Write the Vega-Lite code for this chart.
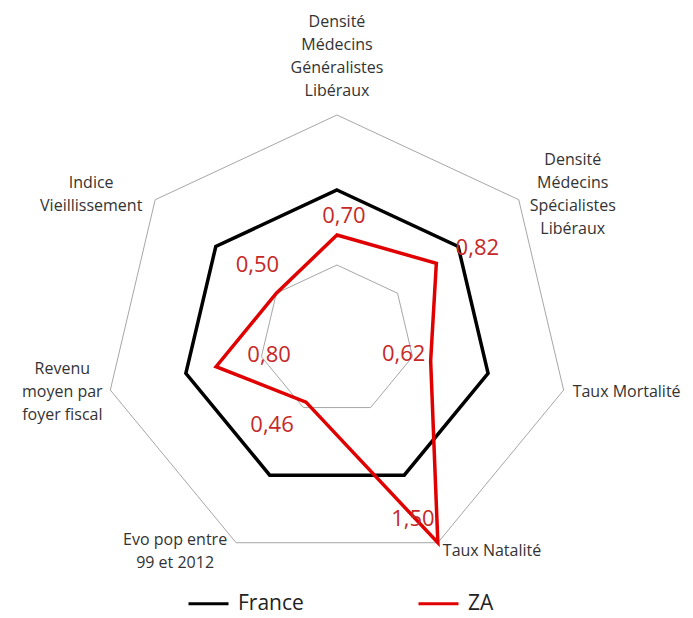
{
  "$schema": "https://vega.github.io/schema/vega-lite/v6.json",
  "width": 693,
  "height": 618,
  "autosize": {"type": "none"},
  "padding": 0,
  "background": "white",
  "config": {
    "view": {"stroke": null},
    "font": "Open Sans",
    "locale": {"number": {"decimal": ",", "thousands": " ", "grouping": [3], "currency": ["", " €"]}}
  },
  "datasets": {
    "series": [
      {"serie": "France", "idx": 0, "value": 1.0},
      {"serie": "France", "idx": 1, "value": 1.0},
      {"serie": "France", "idx": 2, "value": 1.0},
      {"serie": "France", "idx": 3, "value": 1.0},
      {"serie": "France", "idx": 4, "value": 1.0},
      {"serie": "France", "idx": 5, "value": 1.0},
      {"serie": "France", "idx": 6, "value": 1.0},
      {"serie": "ZA", "idx": 0, "value": 0.70},
      {"serie": "ZA", "idx": 1, "value": 0.82},
      {"serie": "ZA", "idx": 2, "value": 0.62},
      {"serie": "ZA", "idx": 3, "value": 1.50},
      {"serie": "ZA", "idx": 4, "value": 0.46},
      {"serie": "ZA", "idx": 5, "value": 0.80},
      {"serie": "ZA", "idx": 6, "value": 0.50}
    ],
    "axes": [
      {"idx": 0, "axe": "Densité\nMédecins\nGénéralistes\nLibéraux"},
      {"idx": 1, "axe": "Densité\nMédecins\nSpécialistes\nLibéraux"},
      {"idx": 2, "axe": "Taux Mortalité"},
      {"idx": 3, "axe": "Taux Natalité"},
      {"idx": 4, "axe": "Evo pop entre\n99 et 2012"},
      {"idx": 5, "axe": "Revenu\nmoyen par\nfoyer fiscal"},
      {"idx": 6, "axe": "Indice\nVieillissement"}
    ],
    "grid": [
      {"level": 0.5, "idx": 0}, {"level": 0.5, "idx": 1}, {"level": 0.5, "idx": 2}, {"level": 0.5, "idx": 3}, {"level": 0.5, "idx": 4}, {"level": 0.5, "idx": 5}, {"level": 0.5, "idx": 6},
      {"level": 1.0, "idx": 0}, {"level": 1.0, "idx": 1}, {"level": 1.0, "idx": 2}, {"level": 1.0, "idx": 3}, {"level": 1.0, "idx": 4}, {"level": 1.0, "idx": 5}, {"level": 1.0, "idx": 6},
      {"level": 1.5, "idx": 0}, {"level": 1.5, "idx": 1}, {"level": 1.5, "idx": 2}, {"level": 1.5, "idx": 3}, {"level": 1.5, "idx": 4}, {"level": 1.5, "idx": 5}, {"level": 1.5, "idx": 6}
    ]
  },
  "encoding": {
    "x": {"field": "x", "type": "quantitative", "scale": {"domain": [-2.174, 2.297], "zero": false, "nice": false}, "axis": null},
    "y": {"field": "y", "type": "quantitative", "scale": {"domain": [-1.8533, 2.2667], "zero": false, "nice": false}, "axis": null}
  },
  "layer": [
    {
      "data": {"name": "grid"},
      "transform": [
        {"calculate": "datum.level*sin(2*PI*datum.idx/7)", "as": "x"},
        {"calculate": "datum.level*cos(2*PI*datum.idx/7)", "as": "y"}
      ],
      "mark": {"type": "line", "interpolate": "linear-closed", "stroke": "#a6a6a6", "strokeWidth": 1},
      "encoding": {"detail": {"field": "level"}, "order": {"field": "idx"}}
    },
    {
      "data": {"name": "series"},
      "transform": [
        {"calculate": "datum.value*sin(2*PI*datum.idx/7)", "as": "x"},
        {"calculate": "datum.value*cos(2*PI*datum.idx/7)", "as": "y"}
      ],
      "mark": {"type": "line", "interpolate": "linear-closed", "strokeWidth": 3.5, "strokeJoin": "miter"},
      "encoding": {
        "order": {"field": "idx"},
        "color": {
          "field": "serie", "type": "nominal",
          "scale": {"domain": ["France", "ZA"], "range": ["#000000", "#e00000"]},
          "legend": {
            "orient": "none", "legendX": 187, "legendY": 582, "direction": "horizontal", "title": null,
            "symbolType": "stroke", "symbolSize": 1600, "symbolStrokeWidth": 3,
            "labelFontSize": 21, "labelFont": "Open Sans", "labelColor": "#222222",
            "labelOffset": 8, "columnPadding": 108, "padding": 0
          }
        }
      }
    },
    {"data": {"name": "series"}, "transform": [{"filter": "datum.serie=='ZA' && datum.idx==0"}, {"calculate": "datum.value*sin(2*PI*datum.idx/7)", "as": "x"}, {"calculate": "datum.value*cos(2*PI*datum.idx/7)", "as": "y"}],
     "mark": {"type": "text", "fontSize": 22, "color": "#c62828", "align": "center", "baseline": "middle", "dx": 7, "dy": -19},
     "encoding": {"text": {"field": "value", "type": "quantitative", "format": ".2f"}}},
    {"data": {"name": "series"}, "transform": [{"filter": "datum.serie=='ZA' && datum.idx==1"}, {"calculate": "datum.value*sin(2*PI*datum.idx/7)", "as": "x"}, {"calculate": "datum.value*cos(2*PI*datum.idx/7)", "as": "y"}],
     "mark": {"type": "text", "fontSize": 22, "color": "#c62828", "align": "center", "baseline": "middle", "dx": 41, "dy": -15},
     "encoding": {"text": {"field": "value", "type": "quantitative", "format": ".2f"}}},
    {"data": {"name": "series"}, "transform": [{"filter": "datum.serie=='ZA' && datum.idx==2"}, {"calculate": "datum.value*sin(2*PI*datum.idx/7)", "as": "x"}, {"calculate": "datum.value*cos(2*PI*datum.idx/7)", "as": "y"}],
     "mark": {"type": "text", "fontSize": 22, "color": "#c62828", "align": "center", "baseline": "middle", "dx": -27, "dy": -7},
     "encoding": {"text": {"field": "value", "type": "quantitative", "format": ".2f"}}},
    {"data": {"name": "series"}, "transform": [{"filter": "datum.serie=='ZA' && datum.idx==3"}, {"calculate": "datum.value*sin(2*PI*datum.idx/7)", "as": "x"}, {"calculate": "datum.value*cos(2*PI*datum.idx/7)", "as": "y"}],
     "mark": {"type": "text", "fontSize": 22, "color": "#c62828", "align": "center", "baseline": "middle", "dx": -25, "dy": -24},
     "encoding": {"text": {"field": "value", "type": "quantitative", "format": ".2f"}}},
    {"data": {"name": "series"}, "transform": [{"filter": "datum.serie=='ZA' && datum.idx==4"}, {"calculate": "datum.value*sin(2*PI*datum.idx/7)", "as": "x"}, {"calculate": "datum.value*cos(2*PI*datum.idx/7)", "as": "y"}],
     "mark": {"type": "text", "fontSize": 22, "color": "#c62828", "align": "center", "baseline": "middle", "dx": -34, "dy": 23},
     "encoding": {"text": {"field": "value", "type": "quantitative", "format": ".2f"}}},
    {"data": {"name": "series"}, "transform": [{"filter": "datum.serie=='ZA' && datum.idx==5"}, {"calculate": "datum.value*sin(2*PI*datum.idx/7)", "as": "x"}, {"calculate": "datum.value*cos(2*PI*datum.idx/7)", "as": "y"}],
     "mark": {"type": "text", "fontSize": 22, "color": "#c62828", "align": "center", "baseline": "middle", "dx": 53, "dy": -12},
     "encoding": {"text": {"field": "value", "type": "quantitative", "format": ".2f"}}},
    {"data": {"name": "series"}, "transform": [{"filter": "datum.serie=='ZA' && datum.idx==6"}, {"calculate": "datum.value*sin(2*PI*datum.idx/7)", "as": "x"}, {"calculate": "datum.value*cos(2*PI*datum.idx/7)", "as": "y"}],
     "mark": {"type": "text", "fontSize": 22, "color": "#c62828", "align": "center", "baseline": "middle", "dx": -19, "dy": -28},
     "encoding": {"text": {"field": "value", "type": "quantitative", "format": ".2f"}}},
    {"data": {"name": "axes"}, "transform": [{"filter": "datum.idx==0"}, {"calculate": "1.5*sin(2*PI*datum.idx/7)", "as": "x"}, {"calculate": "1.5*cos(2*PI*datum.idx/7)", "as": "y"}],
     "mark": {"type": "text", "fontSize": 16, "color": "#333333", "lineBreak": "\n", "lineHeight": 23, "align": "center", "baseline": "middle", "dx": 0, "dy": -93},
     "encoding": {"text": {"field": "axe"}}},
    {"data": {"name": "axes"}, "transform": [{"filter": "datum.idx==1"}, {"calculate": "1.5*sin(2*PI*datum.idx/7)", "as": "x"}, {"calculate": "1.5*cos(2*PI*datum.idx/7)", "as": "y"}],
     "mark": {"type": "text", "fontSize": 16, "color": "#333333", "lineBreak": "\n", "lineHeight": 23, "align": "center", "baseline": "middle", "dx": 54, "dy": -40},
     "encoding": {"text": {"field": "axe"}}},
    {"data": {"name": "axes"}, "transform": [{"filter": "datum.idx==2"}, {"calculate": "1.5*sin(2*PI*datum.idx/7)", "as": "x"}, {"calculate": "1.5*cos(2*PI*datum.idx/7)", "as": "y"}],
     "mark": {"type": "text", "fontSize": 16, "color": "#333333", "lineBreak": "\n", "lineHeight": 23, "align": "left", "baseline": "middle", "dx": 9, "dy": 2},
     "encoding": {"text": {"field": "axe"}}},
    {"data": {"name": "axes"}, "transform": [{"filter": "datum.idx==3"}, {"calculate": "1.5*sin(2*PI*datum.idx/7)", "as": "x"}, {"calculate": "1.5*cos(2*PI*datum.idx/7)", "as": "y"}],
     "mark": {"type": "text", "fontSize": 16, "color": "#333333", "lineBreak": "\n", "lineHeight": 23, "align": "left", "baseline": "middle", "dx": 5, "dy": 8},
     "encoding": {"text": {"field": "axe"}}},
    {"data": {"name": "axes"}, "transform": [{"filter": "datum.idx==4"}, {"calculate": "1.5*sin(2*PI*datum.idx/7)", "as": "x"}, {"calculate": "1.5*cos(2*PI*datum.idx/7)", "as": "y"}],
     "mark": {"type": "text", "fontSize": 16, "color": "#333333", "lineBreak": "\n", "lineHeight": 23, "align": "center", "baseline": "middle", "dx": -61, "dy": -3},
     "encoding": {"text": {"field": "axe"}}},
    {"data": {"name": "axes"}, "transform": [{"filter": "datum.idx==5"}, {"calculate": "1.5*sin(2*PI*datum.idx/7)", "as": "x"}, {"calculate": "1.5*cos(2*PI*datum.idx/7)", "as": "y"}],
     "mark": {"type": "text", "fontSize": 16, "color": "#333333", "lineBreak": "\n", "lineHeight": 23, "align": "center", "baseline": "middle", "dx": -48, "dy": -21},
     "encoding": {"text": {"field": "axe"}}},
    {"data": {"name": "axes"}, "transform": [{"filter": "datum.idx==6"}, {"calculate": "1.5*sin(2*PI*datum.idx/7)", "as": "x"}, {"calculate": "1.5*cos(2*PI*datum.idx/7)", "as": "y"}],
     "mark": {"type": "text", "fontSize": 16, "color": "#333333", "lineBreak": "\n", "lineHeight": 23, "align": "center", "baseline": "middle", "dx": -64, "dy": -17},
     "encoding": {"text": {"field": "axe"}}}
  ]
}
